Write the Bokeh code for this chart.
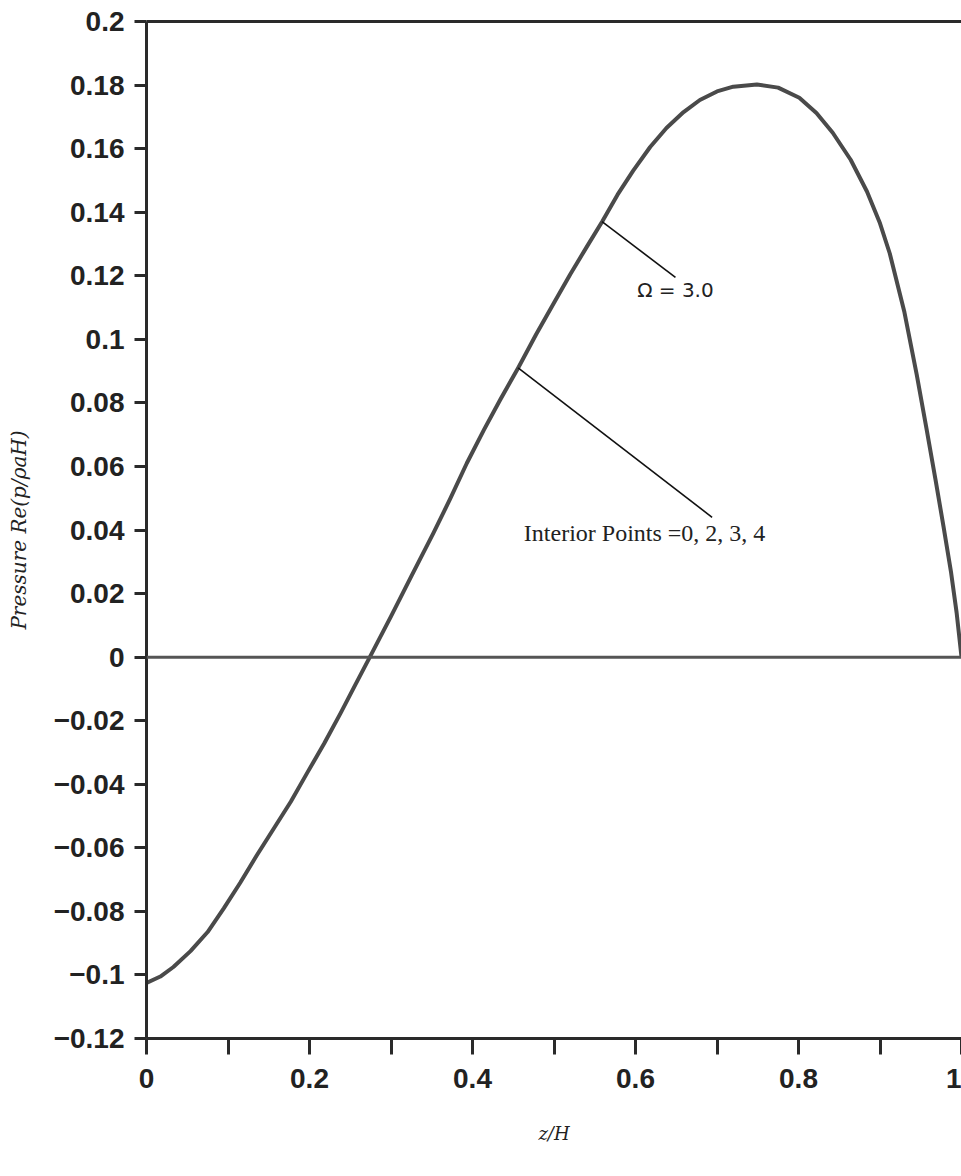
from bokeh.plotting import figure
from bokeh.models import FixedTicker, LinearAxis, Span, Range1d
from bokeh.core.properties import value
from bokeh.embed import file_html
from bokeh.resources import INLINE

# ---- data ----
z_h = [0.0, 0.017, 0.033, 0.054, 0.075, 0.095, 0.115, 0.135, 0.156, 0.177,
       0.197, 0.218, 0.238, 0.256, 0.274, 0.30, 0.325, 0.352, 0.373, 0.393,
       0.414, 0.434, 0.456, 0.478, 0.499, 0.52, 0.54, 0.559, 0.578, 0.597,
       0.618, 0.638, 0.659, 0.679, 0.70, 0.72, 0.749, 0.775, 0.801, 0.822,
       0.842, 0.864, 0.884, 0.90, 0.912, 0.93, 0.945, 0.957, 0.968, 0.978,
       0.987, 0.994, 1.0]
pressure = [-0.1025, -0.1005, -0.0975, -0.0925, -0.0865, -0.079, -0.071, -0.0625, -0.054, -0.0455,
            -0.0365, -0.0272, -0.0177, -0.0088, 0.0, 0.0128, 0.0255, 0.039, 0.050, 0.061,
            0.0715, 0.081, 0.091, 0.1015, 0.111, 0.1205, 0.129, 0.137, 0.1455, 0.153,
            0.1605, 0.1665, 0.1715, 0.1753, 0.178, 0.1795, 0.1802, 0.1792, 0.176, 0.1712,
            0.165, 0.1565, 0.1465, 0.1365, 0.127, 0.1085, 0.089, 0.072, 0.056, 0.041,
            0.027, 0.014, 0.0]

y_ticks = [0.2, 0.18, 0.16, 0.14, 0.12, 0.1, 0.08, 0.06, 0.04, 0.02, 0.0,
           -0.02, -0.04, -0.06, -0.08, -0.1, -0.12]
y_tick_labels = ["0.2", "0.18", "0.16", "0.14", "0.12", "0.1", "0.08", "0.06", "0.04", "0.02", "0",
                 "−0.02", "−0.04", "−0.06", "−0.08", "−0.1", "−0.12"]
x_ticks = [0.0, 0.1, 0.2, 0.3, 0.4, 0.5, 0.6, 0.7, 0.8, 0.9, 1.0]
x_tick_labels = ["0", "", "0.2", "", "0.4", "", "0.6", "", "0.8", "", "1"]

omega_label = "Ω = 3.0"
omega_leader_x = [0.559, 0.649]
omega_leader_y = [0.137, 0.1195]
omega_text_pos = (0.602, 0.1154)

interior_label = "Interior Points =0, 2, 3, 4"
interior_leader_x = [0.456, 0.694]
interior_leader_y = [0.091, 0.044]
interior_text_pos = (0.463, 0.039)

x_title = "z/H"
y_title = "Pressure Re(p/ρaH)"

# ---- figure ----
p = figure(width=961, height=1176, x_range=Range1d(0, 1), y_range=Range1d(-0.12, 0.2),
           output_backend="svg", toolbar_location=None,
           min_border_left=146, min_border_right=0, min_border_top=21, min_border_bottom=138)
p.background_fill_color = "white"
p.border_fill_color = "white"
p.outline_line_color = None
p.xgrid.visible = False
p.ygrid.visible = False

tick_font = "Liberation Sans"
axis_color = "#2a2a2a"

# x axis
xa = p.xaxis[0]
xa.ticker = FixedTicker(ticks=x_ticks)
xa.major_label_overrides = {t: l for t, l in zip(x_ticks, x_tick_labels)}
xa.axis_line_width = 3
xa.axis_line_color = axis_color
xa.major_tick_line_width = 3
xa.major_tick_line_color = axis_color
xa.major_tick_in = 0
xa.major_tick_out = 16
xa.minor_tick_line_color = None
xa.major_label_text_font = tick_font
xa.major_label_text_font_style = "bold"
xa.major_label_text_font_size = "28px"
xa.major_label_text_color = "#222222"
xa.major_label_standoff = 14
xa.axis_label = x_title
xa.axis_label_text_font = "DejaVu Serif"
xa.axis_label_text_font_style = "italic"
xa.axis_label_text_font_size = "18px"
xa.axis_label_text_color = "#222222"
xa.axis_label_standoff = 32

# y axis
ya = p.yaxis[0]
ya.ticker = FixedTicker(ticks=y_ticks)
ya.major_label_overrides = {t: l for t, l in zip(y_ticks, y_tick_labels)}
ya.axis_line_width = 3
ya.axis_line_color = axis_color
ya.major_tick_line_width = 3
ya.major_tick_line_color = axis_color
ya.major_tick_in = 0
ya.major_tick_out = 12
ya.minor_tick_line_color = None
ya.major_label_text_font = tick_font
ya.major_label_text_font_style = "bold"
ya.major_label_text_font_size = "28px"
ya.major_label_text_color = "#222222"
ya.major_label_standoff = 10
ya.axis_label = y_title
ya.axis_label_text_font = "DejaVu Serif"
ya.axis_label_text_font_style = "italic"
ya.axis_label_text_font_size = "20px"
ya.axis_label_text_color = "#222222"
ya.axis_label_standoff = 20

# top border line
top_axis = LinearAxis(ticker=FixedTicker(ticks=[]), major_label_text_font_size="0px",
                      axis_line_width=3, axis_line_color=axis_color,
                      major_tick_line_color=None, minor_tick_line_color=None)
p.add_layout(top_axis, "above")

# zero line
p.add_layout(Span(location=0, dimension="width", line_color="#555555", line_width=3))

# curve
p.line(z_h, pressure, line_color="#4a4a4a", line_width=4, line_join="round")

# annotations
p.line(omega_leader_x, omega_leader_y, line_color="#111111", line_width=1.6)
p.line(interior_leader_x, interior_leader_y, line_color="#111111", line_width=1.6)
p.text(x=[omega_text_pos[0]], y=[omega_text_pos[1]], text=[omega_label],
       text_font=value("DejaVu Sans"), text_font_size="20px", text_color="#222222",
       text_align="left", text_baseline="middle")
p.text(x=[interior_text_pos[0]], y=[interior_text_pos[1]], text=[interior_label],
       text_font=value("Liberation Serif"), text_font_size="24px", text_color="#222222",
       text_align="left", text_baseline="middle")

open("out.html", "w").write(file_html(p, INLINE))
